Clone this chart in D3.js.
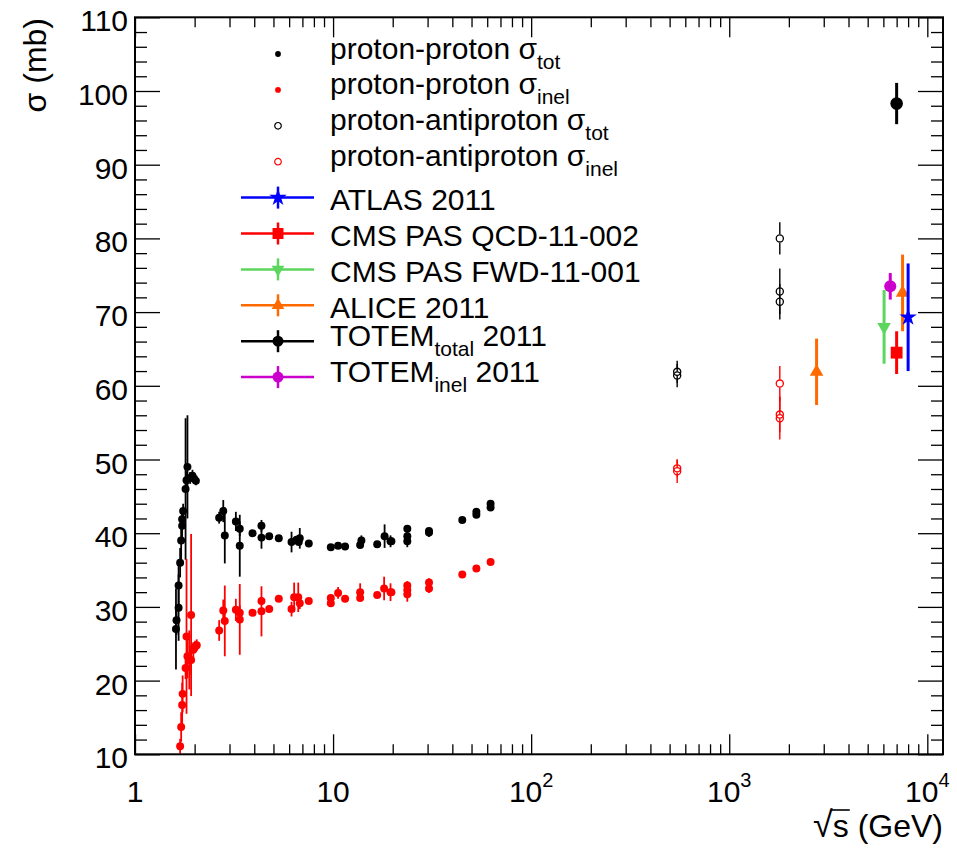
<!DOCTYPE html>
<html>
<head>
<meta charset="utf-8">
<script src="https://cdn.jsdelivr.net/npm/d3@7"></script>
<style>
  body { margin: 0; background: #fff; }
  svg text { font-family: "Liberation Sans", Arial, Helvetica, sans-serif; fill: #000; }
</style>
</head>
<body>
<svg id="chart" width="957" height="855"></svg>
<script>
// [sqrt(s) in GeV, sigma in mb, error in mb]
const ppTot = [
  [1.61, 27.0, 5.5], [1.62, 28.2, 2.0], [1.66, 29.9, 4.5], [1.66, 32.9, 3.5],
  [1.69, 36.0, 2.0], [1.71, 39.0, 2.5], [1.73, 41.0, 2.0], [1.73, 41.9, 1.5],
  [1.75, 43.0, 1.0], [1.80, 46.0, 9.6], [1.82, 47.2, 1.2], [1.84, 49.0, 7.0],
  [1.90, 47.5, 0.8], [1.95, 47.8, 0.8], [1.99, 47.4, 0.6], [2.03, 47.1, 0.6],
  [2.66, 42.1, 0.8], [2.79, 43.0, 1.5], [2.84, 39.7, 3.8], [3.23, 41.6, 1.3],
  [3.38, 40.6, 1.0], [3.38, 38.3, 4.2], [3.92, 40.0, 0.3], [4.35, 41.0, 0.8],
  [4.35, 39.4, 1.5], [4.76, 39.6, 0.3], [5.32, 39.3, 0.3], [6.17, 38.8, 1.4],
  [6.54, 39.1, 0.5], [6.79, 39.3, 1.4], [6.71, 38.8, 0.5], [7.54, 38.6, 0.3],
  [9.74, 38.1, 0.3], [10.6, 38.3, 0.3], [11.5, 38.2, 0.3], [13.7, 38.4, 0.4],
  [13.9, 39.0, 0.7], [16.7, 38.5, 0.3], [18.2, 39.6, 1.6], [19.5, 38.9, 0.8],
  [19.7, 38.9, 0.5], [23.7, 40.6, 0.5], [23.7, 39.6, 0.5], [23.7, 38.9, 0.8],
  [30.5, 40.1, 0.6], [30.5, 40.3, 0.3], [44.9, 41.8, 0.3], [52.9, 42.5, 0.3],
  [52.9, 42.9, 0.3], [62.4, 43.5, 0.3], [62.4, 44.0, 0.3]
];
const ppInel = [
  [1.69, 11.1, 1.0], [1.71, 13.7, 2.0], [1.73, 16.7, 3.0], [1.74, 18.2, 2.5],
  [1.80, 21.7, 1.5], [1.82, 26.0, 10.5], [1.84, 23.3, 3.0], [1.88, 22.8, 4.0],
  [1.92, 28.9, 11.0], [1.92, 22.8, 2.0], [1.97, 24.2, 1.0], [2.01, 24.6, 0.8],
  [2.05, 24.8, 0.8], [2.66, 26.8, 1.4], [2.79, 29.5, 1.5], [2.84, 28.1, 4.8],
  [3.23, 29.6, 1.5], [3.38, 29.2, 1.0], [3.38, 28.3, 4.8], [3.92, 29.2, 0.4],
  [4.35, 30.8, 0.5], [4.35, 29.4, 3.4], [4.76, 29.7, 0.4], [5.32, 31.1, 0.4],
  [6.17, 29.7, 1.0], [6.36, 31.3, 2.0], [6.67, 31.3, 2.0], [6.79, 30.5, 0.8],
  [7.54, 30.8, 0.4], [9.74, 31.2, 0.4], [9.74, 30.5, 0.4], [10.6, 31.9, 0.8],
  [11.5, 31.1, 0.4], [13.7, 32.0, 1.2], [13.7, 31.2, 0.4], [16.7, 31.6, 0.4],
  [18.1, 32.5, 1.6], [19.5, 32.0, 1.2], [19.7, 32.0, 0.4], [23.7, 32.9, 0.6],
  [23.7, 32.3, 0.6], [23.7, 31.7, 1.0], [30.5, 33.3, 0.6], [30.5, 32.5, 0.6],
  [44.9, 34.4, 0.3], [52.9, 35.2, 0.3], [62.4, 36.1, 0.3]
];
const pbarTot  = [[546, 61.4, 1.6], [546, 61.9, 1.5], [1800, 80.0, 2.2], [1800, 72.8, 3.1], [1800, 71.4, 2.4]];
const pbarInel = [[546, 48.4, 1.6], [546, 48.8, 1.2], [1800, 60.3, 2.4], [1800, 56.1, 2.4], [1800, 55.6, 2.9]];

const atlas      = [[8000, 69.3, 7.3]];
const cmsQcd     = [[7000, 64.5, 2.9]];
const cmsFwd     = [[6050, 68.0, 5.0]];
const alice      = [[2760, 61.9, 4.5], [7500, 72.6, 5.2]];
const totemTotal = [[7000, 98.3, 2.8]];
const totemInel  = [[6500, 73.5, 1.8]];

const xMajor = [1, 10, 100, 1000, 10000];
const xLabels = [["1", ""], ["10", ""], ["10", "2"], ["10", "3"], ["10", "4"]];
const yMajor = [10, 20, 30, 40, 50, 60, 70, 80, 90, 100, 110];

const legendLabels = [
  ["proton-proton σ", "tot", ""],
  ["proton-proton σ", "inel", ""],
  ["proton-antiproton σ", "tot", ""],
  ["proton-antiproton σ", "inel", ""],
  ["ATLAS 2011", "", ""],
  ["CMS PAS QCD-11-002", "", ""],
  ["CMS PAS FWD-11-001", "", ""],
  ["ALICE 2011", "", ""],
  ["TOTEM", "total", " 2011"],
  ["TOTEM", "inel", " 2011"]
];

const svg = d3.select("#chart");
const L = 135, R = 943, T = 17.3, B = 754.3;

const x = d3.scaleLog().domain([1, 12000]).range([L, R]);
const y = d3.scaleLinear().domain([10, 110]).range([B, T]);

const xMinor = [];
[1, 10, 100, 1000].forEach(d => { for (let m = 2; m <= 9; m++) xMinor.push(d * m); });
const yMinor = d3.range(12, 110, 2).filter(v => v % 10 !== 0);

// styles for each series
const styles = {
  ppTot:      { color: "#000", shape: d3.symbolCircle, size: 50, fill: true, bw: 1.8 },
  ppInel:     { color: "#f00", shape: d3.symbolCircle, size: 50, fill: true, bw: 1.8 },
  pbarTot:    { color: "#000", shape: d3.symbolCircle, size: 40, fill: false, bw: 1.4 },
  pbarInel:   { color: "#f00", shape: d3.symbolCircle, size: 40, fill: false, bw: 1.4 },
  atlas:      { color: "#0000ff", shape: d3.symbolStar, size: 95, fill: true, bw: 3, legendSize: 95 },
  cmsQcd:     { color: "#ff0000", shape: d3.symbolSquare, size: 140, fill: true, bw: 3, legendSize: 120 },
  cmsFwd:     { color: "#5cd65c", shape: d3.symbolTriangle, size: 80, fill: true, bw: 3, rot: 180, legendSize: 70 },
  alice:      { color: "#ff6a00", shape: d3.symbolTriangle, size: 80, fill: true, bw: 3, legendSize: 70 },
  totemTotal: { color: "#000", shape: d3.symbolCircle, size: 125, fill: true, bw: 3, legendSize: 95 },
  totemInel:  { color: "#cc00cc", shape: d3.symbolCircle, size: 115, fill: true, bw: 3, legendSize: 95 }
};

const plot = svg.append("g");

function drawSeries(data, st) {
  const g = plot.append("g");
  const gap = st.fill ? 0 : Math.sqrt(st.size / Math.PI) + 0.5;
  data.forEach(d => {
    const cx = x(d[0]), cy = y(d[1]);
    const top = y(d[1] + d[2]), bot = y(d[1] - d[2]);
    if (cy - gap > top)
      g.append("line").attr("x1", cx).attr("x2", cx).attr("y1", top).attr("y2", cy - gap)
        .attr("stroke", st.color).attr("stroke-width", st.bw);
    if (bot > cy + gap)
      g.append("line").attr("x1", cx).attr("x2", cx).attr("y1", cy + gap).attr("y2", bot)
        .attr("stroke", st.color).attr("stroke-width", st.bw);
  });
  g.selectAll("path.m")
    .data(data)
    .join("path")
    .attr("class", "m")
    .attr("d", d3.symbol().type(st.shape).size(st.size))
    .attr("transform", d => `translate(${x(d[0])},${y(d[1])})` + (st.rot ? ` rotate(${st.rot})` : ""))
    .attr("fill", st.fill ? st.color : "none")
    .attr("stroke", st.color)
    .attr("stroke-width", st.fill ? 0 : 1.3);
}

drawSeries(ppTot, styles.ppTot);
drawSeries(ppInel, styles.ppInel);
drawSeries(pbarTot, styles.pbarTot);
drawSeries(pbarInel, styles.pbarInel);
drawSeries(cmsFwd, styles.cmsFwd);
drawSeries(totemInel, styles.totemInel);
drawSeries(cmsQcd, styles.cmsQcd);
drawSeries(alice, styles.alice);
drawSeries(atlas, styles.atlas);
drawSeries(totemTotal, styles.totemTotal);

// axes, ROOT style: ticks inside the frame on all four sides
function tickAxis(axisFn, scale, vals, size, transform) {
  svg.append("g")
    .attr("transform", transform)
    .call(axisFn(scale).tickValues(vals).tickSize(-size).tickSizeOuter(0).tickFormat(""))
    .call(g => g.select(".domain").remove())
    .call(g => g.selectAll(".tick line").attr("stroke", "#000").attr("stroke-width", 1.3));
}
tickAxis(d3.axisBottom, x, xMajor, 20, `translate(0,${B})`);
tickAxis(d3.axisBottom, x, xMinor, 10, `translate(0,${B})`);
tickAxis(d3.axisTop, x, xMajor, 20, `translate(0,${T})`);
tickAxis(d3.axisTop, x, xMinor, 10, `translate(0,${T})`);
tickAxis(d3.axisLeft, y, yMajor, 25, `translate(${L},0)`);
tickAxis(d3.axisLeft, y, yMinor, 12, `translate(${L},0)`);
tickAxis(d3.axisRight, y, yMajor, 25, `translate(${R},0)`);
tickAxis(d3.axisRight, y, yMinor, 12, `translate(${R},0)`);

svg.append("rect")
  .attr("x", L).attr("y", T).attr("width", R - L).attr("height", B - T)
  .attr("fill", "none").attr("stroke", "#000").attr("stroke-width", 2);

// y tick labels
svg.append("g").selectAll("text")
  .data(yMajor)
  .join("text")
  .attr("x", 128)
  .attr("y", d => y(d) + 14)
  .attr("text-anchor", "end")
  .attr("font-size", 30)
  .text(d => d);

// x tick labels with exponents
const xl = svg.append("g").selectAll("text")
  .data(xMajor)
  .join("text")
  .attr("x", d => x(d))
  .attr("y", 802)
  .attr("text-anchor", "middle")
  .attr("font-size", 30);
xl.append("tspan").text((d, i) => xLabels[i][0]);
xl.append("tspan").attr("font-size", 20).attr("dy", -15).text((d, i) => xLabels[i][1]);

// axis titles
const xt = svg.append("text")
  .attr("x", R)
  .attr("y", 837)
  .attr("text-anchor", "end")
  .attr("font-size", 32);
xt.append("tspan").attr("font-size", 36).text("√");
xt.append("tspan").text("s");
xt.append("tspan").text(" (GeV)");
{
  const node = xt.node();
  const s0 = node.getStartPositionOfChar(1).x, s1 = node.getEndPositionOfChar(1).x;
  svg.append("line").attr("x1", s0 - 1).attr("x2", s1 + 1).attr("y1", 837 - 27).attr("y2", 837 - 27)
    .attr("stroke", "#000").attr("stroke-width", 1.6);
}

svg.append("text")
  .attr("transform", "translate(46,18) rotate(-90)")
  .attr("text-anchor", "end")
  .attr("font-size", 32)
  .text("σ (mb)");

// legend
const legendStyles = [styles.ppTot, styles.ppInel, styles.pbarTot, styles.pbarInel, styles.atlas,
  styles.cmsQcd, styles.cmsFwd, styles.alice, styles.totemTotal, styles.totemInel];

const leg = svg.append("g");
legendLabels.forEach((lab, i) => {
  const st = legendStyles[i];
  const cy = 54 + 35.9 * i;
  const mx = 278;
  if (i >= 4) {
    leg.append("line").attr("x1", 241).attr("x2", 314).attr("y1", cy).attr("y2", cy)
      .attr("stroke", st.color).attr("stroke-width", 2.5);
    leg.append("line").attr("x1", mx).attr("x2", mx).attr("y1", cy - 11).attr("y2", cy + 11)
      .attr("stroke", st.color).attr("stroke-width", 2.5);
  }
  leg.append("path")
    .attr("d", d3.symbol().type(st.shape).size(i < 4 ? (st.fill ? 26 : 34) : st.legendSize))
    .attr("transform", `translate(${mx},${cy})` + (st.rot ? ` rotate(${st.rot})` : ""))
    .attr("fill", st.fill ? st.color : "none")
    .attr("stroke", st.color)
    .attr("stroke-width", st.fill ? 0 : 1.2);

  const hasSub = lab[1] !== "";
  const t = leg.append("text")
    .attr("x", 330)
    .attr("y", cy + (hasSub ? 4.5 : 12.3))
    .attr("font-size", 30);
  t.append("tspan").text(lab[0]);
  if (hasSub) t.append("tspan").attr("font-size", 21).attr("dy", 10).text(lab[1]);
  if (lab[2]) t.append("tspan").attr("dy", hasSub ? -10 : 0).text(lab[2]);
});
</script>
</body>
</html>
